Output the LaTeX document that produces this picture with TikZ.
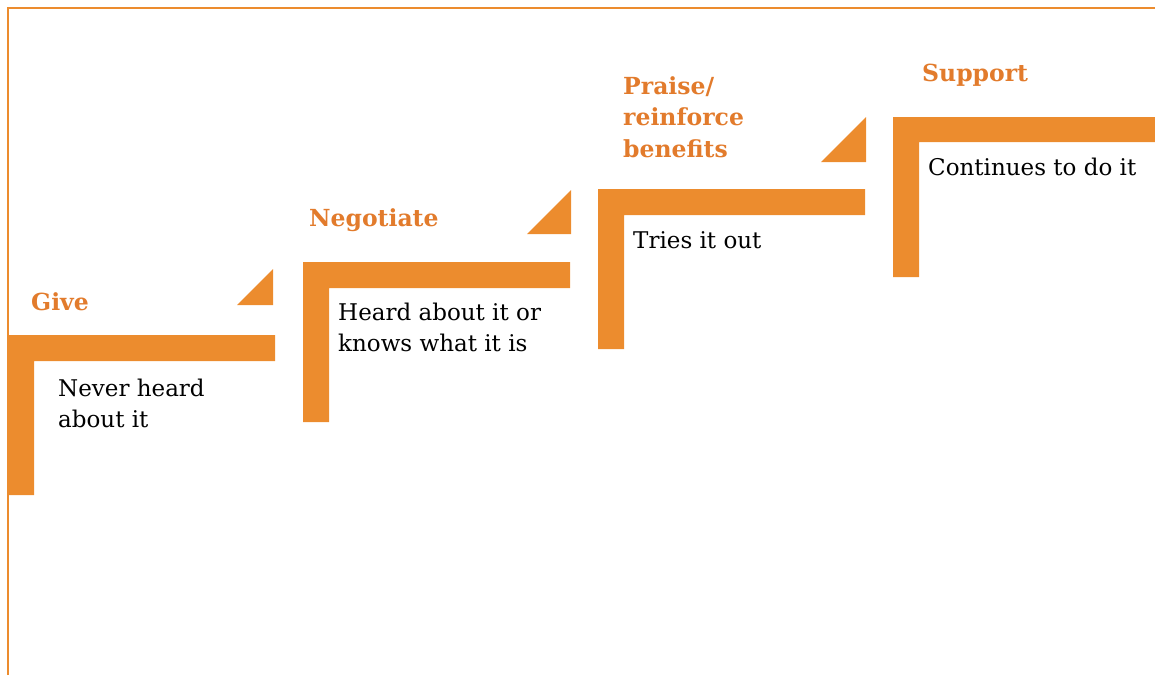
\documentclass[tikz,border=0pt]{standalone}
\usepackage{fontspec}
\setmainfont{DejaVu Serif}
\usepackage{xcolor}
\usepackage{tikz}

\definecolor{stepfill}{HTML}{EC8C2E}
\definecolor{steptitle}{HTML}{E27B2C}

\tikzset{
  bar/.style={fill=stepfill},
  stage/.style={anchor=base west, inner sep=0pt, align=left, font=\fontsize{23}{30.5}\selectfont},
  title/.style={stage, text=steptitle, font=\fontsize{23.5}{31.5}\selectfont\bfseries},
}

\begin{document}
\begin{tikzpicture}[x=1pt, y=-1pt]
\useasboundingbox (0,0) rectangle (1155,675);
% Frame
\draw[stepfill, line width=1.6pt] (8,675) -- (8,8) -- (1155,8);

% Step 1 (multi-line nodes sit on their last baseline)
\fill[bar] (8,335) -- (275,335) -- (275,361) -- (34,361) -- (34,495) -- (8,495) -- cycle;
\fill[bar] (237,305) -- (273,305) -- (273,269) -- cycle;
\node[title] (give) at (31,310) {Give};
\node[stage] (never) at (58,427) {Never heard\\about it};

% Step 2
\fill[bar] (303,262) -- (570,262) -- (570,288) -- (329,288) -- (329,422) -- (303,422) -- cycle;
\fill[bar] (527,234) -- (571,234) -- (571,190) -- cycle;
\node[title] (negotiate) at (309,226) {Negotiate};
\node[stage] (heard) at (338,351) {Heard about it or\\knows what it is};

% Step 3
\fill[bar] (598,189) -- (865,189) -- (865,215) -- (624,215) -- (624,349) -- (598,349) -- cycle;
\fill[bar] (821,162) -- (866,162) -- (866,117) -- cycle;
\node[title] (praise) at (623,157) {Praise/\\reinforce\\benefits};
\node[stage] (tries) at (633,248) {Tries it out};

% Step 4
\fill[bar] (893,117) -- (1155,117) -- (1155,142) -- (919,142) -- (919,277) -- (893,277) -- cycle;
\node[title] (support) at (922,81) {Support};
\node[stage] (continues) at (928,175) {Continues to do it};
\end{tikzpicture}
\end{document}
